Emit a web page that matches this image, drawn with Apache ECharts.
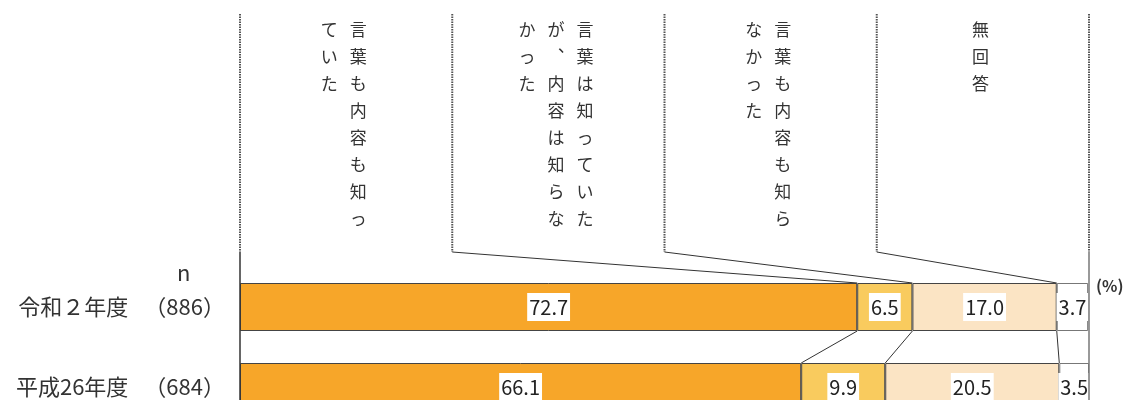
<!DOCTYPE html>
<html>
<head>
<meta charset="utf-8">
<script src="https://cdn.jsdelivr.net/npm/echarts@6/dist/echarts.min.js"></script>
<style>
    html, body { margin: 0; padding: 0; background: #fff; }
    #chart { width: 1126px; height: 400px; }
</style>
</head>
<body>
<div id="chart"></div>
<script>
const years = ['令和２年度', '平成26年度'];
const sampleN = [886, 684];
const answers = ['言葉も内容も知っていた', '言葉は知っていたが、内容は知らなかった', '言葉も内容も知らなかった', '無回答'];
// vertical header text, columns read right to left
const headerColumns = [
    ['言葉も内容も知っ', 'ていた'],
    ['言葉は知っていた', 'が︑内容は知らな', 'かった'],
    ['言葉も内容も知ら', 'なかった'],
    ['無回答']
];
const knewBoth = [72.7, 66.1];
const knewWordOnly = [6.5, 9.9];
const knewNeither = [17.0, 20.5];
const noAnswer = [3.7, 3.5];
const seriesValues = [knewBoth, knewWordOnly, knewNeither, noAnswer];
const colors = ['#F7A629', '#F9CB5E', '#FBE4C4', '#FFFFFF'];

const FONT = '"Noto Sans CJK JP", "Noto Sans", sans-serif';
const chart = echarts.init(document.getElementById('chart'));

// 各年度の累積値（区切り位置）
function cumulative(row) {
    let sum = 0;
    const out = [];
    for (let i = 0; i < seriesValues.length - 1; i++) {
        sum += seriesValues[i][row];
        out.push(Math.round(sum * 10) / 10);
    }
    return out;
}
const cumRows = years.map((y, i) => cumulative(i));

function renderOverlay(params, api) {
    const half = api.size([0, 1])[1] * 0.3;
    const xAt = v => api.coord([v, 0])[0];
    const topOf = i => api.coord([0, i])[1] - half;
    const bottomOf = i => api.coord([0, i])[1] + half;
    const headTop = 14, headBottom = 252;
    const colW = 100 / answers.length;
    const children = [];
    const line = (x1, y1, x2, y2, style) => children.push({
        type: 'line', shape: {x1: x1, y1: y1, x2: x2, y2: y2}, style: style
    });
    const thin = {stroke: '#333', lineWidth: 1};

    // 見出しの区切り（点線）
    for (let i = 0; i <= answers.length; i++) {
        const x = xAt(i * colW);
        line(x, headTop, x, headBottom, {stroke: '#555', lineWidth: 2, lineDash: [1.5, 1]});
    }
    // 左右の縦線
    line(xAt(0), headBottom, xAt(0), 400, {stroke: '#333', lineWidth: 1.5});
    line(xAt(100), headBottom, xAt(100), 400, {stroke: '#777', lineWidth: 1.5});
    // 見出しから棒への引き出し線
    cumRows[0].forEach((c, k) => {
        line(xAt((k + 1) * colW), headBottom, xAt(c), topOf(0), thin);
    });
    // 年度間の区切り線
    for (let r = 0; r < years.length - 1; r++) {
        cumRows[r].forEach((c, k) => {
            line(xAt(c), bottomOf(r), xAt(cumRows[r + 1][k]), topOf(r + 1), thin);
        });
    }
    // 縦書きの見出し
    headerColumns.forEach((cols, i) => {
        const center = xAt((i + 0.5) * colW) - 2.5;
        const n = cols.length;
        cols.forEach((txt, j) => {
            children.push({
                type: 'text',
                style: {
                    text: txt.split('').join('\n'),
                    x: center + ((n - 1) / 2 - j) * 29,
                    y: 16,
                    fill: '#333',
                    fontSize: 17,
                    fontFamily: FONT,
                    lineHeight: 27,
                    align: 'center',
                    verticalAlign: 'top'
                }
            });
        });
    });
    return {type: 'group', children: children};
}

const series = seriesValues.map((vals, i) => ({
    type: 'bar',
    name: answers[i],
    stack: 'total',
    barWidth: '60%',
    data: vals,
    itemStyle: {
        color: colors[i],
        borderColor: i === seriesValues.length - 1 ? '#777' : '#444',
        borderWidth: 1
    },
    label: {
        show: true,
        position: 'inside',
        formatter: p => p.value.toFixed(1),
        backgroundColor: '#fff',
        padding: [5, 2, 3, 2],
        fontSize: 20,
        color: '#222',
        fontFamily: FONT
    }
}));

series.push({
    type: 'custom',
    silent: true,
    z: 5,
    data: [[0, 0]],
    encode: {x: 0, y: 1},
    renderItem: renderOverlay
});

chart.setOption({
    animation: false,
    grid: {left: 240, right: 37, top: 267, height: 160, outerBoundsMode: 'none', containLabel: false},
    xAxis: {type: 'value', min: 0, max: 100, show: false},
    yAxis: {
        type: 'category',
        inverse: true,
        data: years,
        axisLine: {show: false},
        axisTick: {show: false},
        axisLabel: {
            margin: 15,
            color: '#333',
            fontSize: 22,
            fontFamily: FONT,
            formatter: (value, index) => '{a|' + value + '}{b|（' + sampleN[index] + '）}',
            rich: {
                a: {fontSize: 22, color: '#333', fontFamily: FONT},
                b: {fontSize: 22, color: '#333', fontFamily: FONT, padding: [0, 0, 0, 16]}
            }
        }
    },
    graphic: [
        {type: 'text', left: 177, top: 262, style: {text: 'n', fontSize: 22, fill: '#333', fontFamily: FONT}},
        {type: 'text', left: 1096, top: 278, style: {text: '(%)', fontSize: 16, fontWeight: 'bold', fill: '#333', fontFamily: FONT}}
    ],
    series: series
});
</script>
</body>
</html>
